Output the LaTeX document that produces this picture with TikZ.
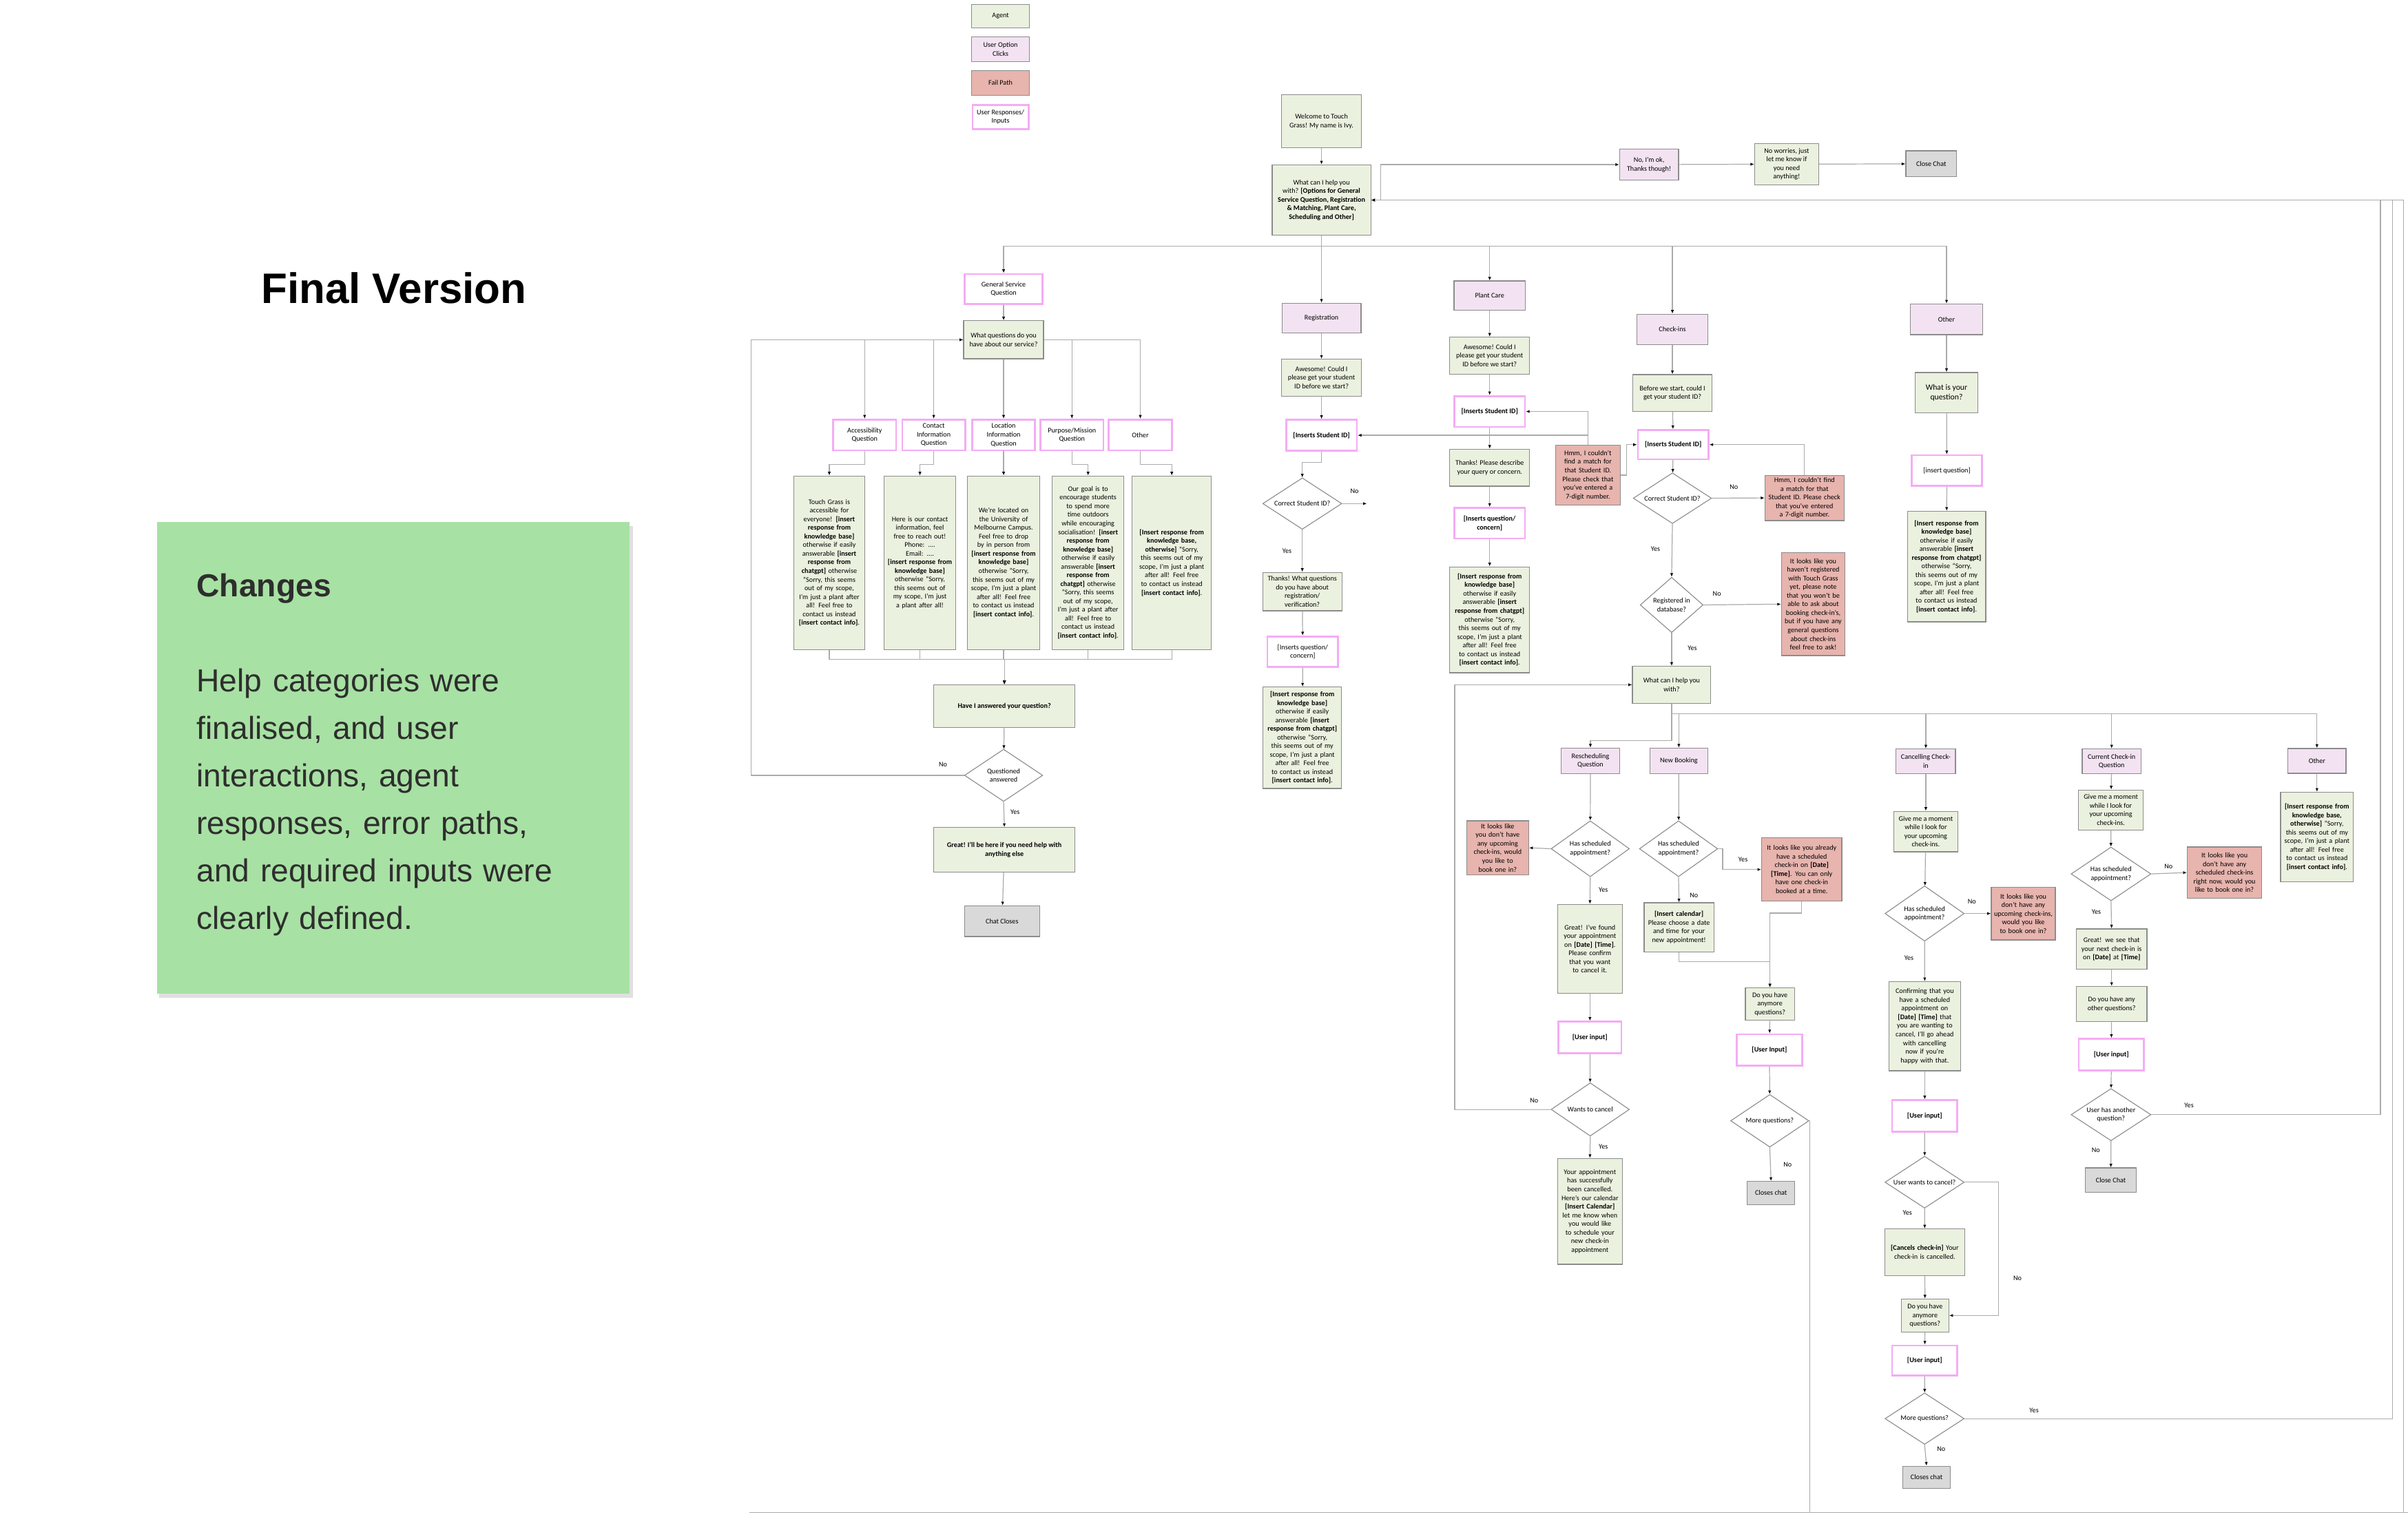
\documentclass[tikz,border=0pt]{standalone}
\usepackage{fontspec}
\setmainfont{Liberation Sans}
\newfontfamily\cbr{Carlito}
\usetikzlibrary{arrows.meta,shapes.geometric}
\definecolor{agentfill}{HTML}{EBF1DF}
\definecolor{optfill}{HTML}{F3E3F2}
\definecolor{failfill}{HTML}{E7B4AE}
\definecolor{respline}{HTML}{F4ACF4}
\definecolor{endfill}{HTML}{D9D9D9}
\definecolor{boxline}{HTML}{8C8C8C}
\definecolor{connline}{HTML}{ABABAB}
\definecolor{chgfill}{HTML}{A8E1A4}
\definecolor{chgtext}{HTML}{2E2E2E}
\hyphenpenalty=10000
\exhyphenpenalty=10000
\tikzset{
  fc/.style={font=\cbr\fontsize{13}{16}\selectfont},
  bx/.style={rectangle, draw=boxline, line width=0.55mm, align=center, inner sep=0.8mm, fc},
  agent/.style={bx, fill=agentfill},
  opt/.style={bx, fill=optfill},
  fail/.style={bx, fill=failfill},
  resp/.style={bx, fill=white, draw=respline, line width=1.2mm},
  endb/.style={bx, fill=endfill},
  fx/.style 2 args={minimum width=#1mm, minimum height=#2mm},
  sz/.style 2 args={minimum width=#1mm, minimum height=#2mm, /utils/exec={\pgfmathsetlengthmacro\boxtw{#1mm-3mm}}, text width=\boxtw},
  dia/.style={diamond, aspect=1.5, draw=boxline, line width=0.5mm, fill=white, align=center, inner sep=0pt, fc},
  conn/.style={draw=connline, line width=0.55mm, -{Latex[length=2.4mm,width=2mm,color=black]}},
  plain/.style={draw=connline, line width=0.55mm},
  yn/.style={fc, inner sep=0pt},
}
\newcommand{\ansfull}{\textbf{[Insert response from knowledge base]} otherwise if easily answerable \textbf{[insert response from chatgpt]} otherwise “Sorry, this seems out of my scope, I’m just a plant after all! Feel free to contact us instead \textbf{[insert contact info]}.}
\newcommand{\hmmtxt}{Hmm, I couldn’t find a match for that Student ID. Please check that you’ve entered a 7-digit number.}
\newcommand{\noupcoming}{It looks like you don’t have any upcoming check-ins, would you like to book one in?}
\begin{document}
\begin{tikzpicture}[x=1mm,y=-1mm]
\useasboundingbox (0,0) rectangle (1568,988);
\fill[white] (0,0) rectangle (1568,988);

% ---------- left panel ----------
\node[font=\bfseries\fontsize{79}{92}\selectfont, anchor=base west, inner sep=0pt] (title) at (170,197.5) {Final Version};
\fill[black!12] (103.5,342.5) rectangle (412,650);
\node[fill=chgfill, minimum width=308mm, minimum height=307mm, inner sep=0pt, anchor=north west] (chgbox) at (102,340) {};
\node[font=\bfseries\fontsize{59}{70}\selectfont, text=chgtext, anchor=base west, inner sep=0pt] (chghead) at (128,388.5) {Changes};
\node[font=\fontsize{59}{88}\selectfont, text=chgtext, anchor=base west, inner sep=0pt, text width=280mm, align=left] (chgbody) at (128,450.5) {Help categories were\\finalised, and user\\interactions, agent\\responses, error paths,\\and required inputs were\\clearly defined.};

% ---------- legend ----------
\node[agent, fx={37.5}{15.5}] (lgA) at (651.5,10.5) {Agent};
\node[opt, fx={37.5}{16}] (lgO) at (651.5,32) {User Option\\Clicks};
\node[fail, fx={37.5}{16}] (lgF) at (651.5,54) {Fail Path};
\node[resp, fx={36.5}{15.5}] (lgR) at (651.5,76.2) {User Responses/\\Inputs};

% ---------- top ----------
\node[agent, fx={52}{34.7}] (welcome) at (860.5,79) {Welcome to Touch\\Grass! My name is Ivy.};
\node[agent, fx={64.3}{45.8}] (whatcan) at (860.5,130.3) {What can I help you\\with? \textbf{[Options for General}\\\textbf{Service Question, Registration}\\\textbf{\& Matching, Plant Care,}\\\textbf{Scheduling and Other]}};
\node[opt, fx={38.4}{20.5}] (noimok) at (1073.8,107.2) {No, I’m ok,\\Thanks though!};
\node[agent, fx={41.8}{27}] (noworries) at (1163.4,106.9) {No worries, just\\let me know if\\you need\\anything!};
\node[endb, fx={33}{17}] (closechat1) at (1257.5,106.7) {Close Chat};

% ---------- categories ----------
\node[resp, fx={50.5}{19.5}] (gsq) at (653.5,188.2) {General Service\\Question};
\node[opt, fx={51.5}{19.5}] (reg) at (860.5,207.2) {Registration};
\node[opt, fx={46.5}{19}] (pc) at (970,192.5) {Plant Care};
\node[opt, fx={46}{20}] (ci) at (1089,214.6) {Check-ins};
\node[opt, fx={47}{20}] (oth1) at (1267.5,208) {Other};

% ---------- general service ----------
\node[agent, fx={52}{24.7}] (wq) at (653.5,221.3) {What questions do you\\have about our service?};
\node[resp, fx={41}{20}] (acc) at (563,283.3) {Accessibility\\Question};
\node[resp, fx={41}{20}] (contact) at (608,283.3) {Contact\\Information\\Question};
\node[resp, fx={41}{20}] (loc) at (653.5,283.3) {Location\\Information\\Question};
\node[resp, fx={41}{20}] (purp) at (698,283.3) {Purpose/Mission\\Question};
\node[resp, fx={41}{20}] (oth) at (742.5,283.3) {Other};
\node[agent, sz={46.5}{113}] (a1) at (540,366.5) {Touch Grass is accessible for everyone! \textbf{[insert response from knowledge base]} otherwise if easily answerable \textbf{[insert response from chatgpt]} otherwise “Sorry, this seems out of my scope, I’m just a plant after all! Feel free to contact us instead \textbf{[insert contact info]}.};
\node[agent, sz={46.5}{113}] (a2) at (599,366.5) {Here is our contact information, feel free to reach out!\\Phone: ....\\Email: ....\\\textbf{[insert response from knowledge base]} otherwise “Sorry, this seems out of my scope, I’m just a plant after all!};
\node[agent, sz={47}{113}] (a3) at (653.5,366.5) {We’re located on the University of Melbourne Campus. Feel free to drop by in person from \textbf{[insert response from knowledge base]} otherwise “Sorry, this seems out of my scope, I’m just a plant after all! Feel free to contact us instead \textbf{[insert contact info]}.};
\node[agent, sz={46.5}{113}] (a4) at (708.5,366.5) {Our goal is to encourage students to spend more time outdoors while encouraging socialisation! \textbf{[insert response from knowledge base]} otherwise if easily answerable \textbf{[insert response from chatgpt]} otherwise “Sorry, this seems out of my scope, I’m just a plant after all! Feel free to contact us instead \textbf{[insert contact info]}.};
\node[agent, sz={51.5}{113}] (a5) at (763,366.5) {\textbf{[Insert response from knowledge base, otherwise]} “Sorry, this seems out of my scope, I’m just a plant after all! Feel free to contact us instead \textbf{[insert contact info]}.};
\node[agent, fx={92}{28}] (hia) at (654,460) {\textbf{Have I answered your question?}};
\node[dia, fx={51}{34}] (qa) at (653.5,505) {Questioned\\answered};
\node[agent, fx={92}{29}] (great) at (654,553.5) {\textbf{Great! I’ll be here if you need help with}\\\textbf{anything else}};
\node[endb, fx={49}{20}] (chatcloses) at (652.5,600) {Chat Closes};

% ---------- registration ----------
\node[agent, fx={52}{24}] (regaw) at (860.5,246) {Awesome! Could I\\please get your student\\ID before we start?};
\node[resp, fx={46}{20}] (regid) at (860.5,283.5) {\textbf{[Inserts Student ID]}};
\node[dia, fx={51.5}{33.5}] (regdia) at (848,328) {Correct Student ID?};
\coordinate (regnoend) at (890,328);
\node[agent, fx={51.5}{25}] (regthanks) at (848,385.3) {Thanks! What questions\\do you have about\\registration/\\verification?};
\node[resp, fx={46}{20}] (regq) at (848.3,424.5) {[Inserts question/\\concern]};
\node[agent, sz={51}{66}] (regans) at (848,480.5) {\ansfull};

% ---------- plant care ----------
\node[agent, fx={52}{24}] (pcaw) at (970,231.6) {Awesome! Could I\\please get your student\\ID before we start?};
\node[resp, fx={46}{20}] (pcid) at (970,268) {\textbf{[Inserts Student ID]}};
\node[agent, fx={52}{24}] (pcthanks) at (970,304.6) {Thanks! Please describe\\your query or concern.};
\node[resp, fx={46}{20}] (pcq) at (970,340.8) {\textbf{[Inserts question/}\\\textbf{concern]}};
\node[agent, sz={52}{69}] (pcans) at (970,403.7) {\ansfull};
\node[fail, sz={42}{39}] (red1) at (1034,309.5) {\hmmtxt};

% ---------- check-ins ----------
\node[agent, fx={51.5}{24}] (ciask) at (1089,256) {Before we start, could I\\get your student ID?};
\node[resp, fx={46}{19}] (ciid) at (1089.5,289.6) {\textbf{[Inserts Student ID]}};
\node[dia, fx={51}{33}] (cidia) at (1089,324.5) {Correct Student ID?};
\node[fail, sz={51.5}{29.5}] (red2) at (1175,324.3) {\hmmtxt};
\node[dia, fx={41}{36}] (regdb) at (1088.5,394) {Registered in\\database?};
\node[fail, sz={41.5}{67}] (red3) at (1180.7,393.5) {It looks like you haven’t registered with Touch Grass yet, please note that you won’t be able to ask about booking check-in’s, but if you have any general questions about check-ins feel free to ask!};
\node[agent, fx={51}{24}] (whathelp) at (1088.5,446) {What can I help you\\with?};

% ---------- other ----------
\node[agent, fx={41}{26.4}, font=\cbr\fontsize{15}{18}\selectfont] (othq) at (1267.5,255.8) {What is your\\question?};
\node[resp, fx={46}{20}] (othin) at (1267.7,306.5) {[insert question]};
\node[agent, sz={51}{72}] (othans) at (1267.5,369) {\ansfull};

% ---------- second level ----------
\node[opt, fx={38}{16.5}] (resq) at (1035.6,495.5) {Rescheduling\\Question};
\node[opt, fx={37.5}{16.5}] (nb) at (1093.2,495.5) {New Booking};
\node[opt, fx={38.7}{16}] (cc) at (1254,495.8) {Cancelling Check-\\in};
\node[opt, fx={38.3}{16}] (cur) at (1375,495.8) {Current Check-in\\Question};
\node[opt, fx={37.8}{16.2}] (oth2) at (1508.7,495.6) {Other};

% rescheduling
\node[dia, fx={51}{36.4}] (resdia) at (1035.5,552.8) {Has scheduled\\appointment?};
\node[fail, sz={40.5}{35.2}] (redR) at (975.2,552.2) {\noupcoming};
\node[agent, sz={42}{58}] (resgreat) at (1035.3,618) {Great! I’ve found your appointment on \textbf{[Date] [Time]}. Please confirm that you want to cancel it.};
\node[resp, fx={41}{20.5}] (resin) at (1035.3,675.7) {\textbf{[User input]}};
\node[dia, fx={51}{34.7}] (wantdia) at (1035.5,722.6) {Wants to cancel};
\node[agent, sz={42}{69}] (rescan) at (1035.3,789) {Your appointment has successfully been cancelled. Here’s our calendar \textbf{[Insert Calendar]} let me know when you would like to schedule your new check-in appointment};

% new booking
\node[dia, fx={51}{36.4}] (nbdia) at (1093,552.8) {Has scheduled\\appointment?};
\node[fail, sz={52.3}{41.3}] (redNB) at (1173.2,566.3) {It looks like you already have a scheduled check-in on \textbf{[Date] [Time]}. You can only have one check-in booked at a time.};
\node[agent, sz={45.4}{32}] (nbcal) at (1093.3,604) {\textbf{[Insert calendar]} Please choose a date and time for your new appointment!};
\node[agent, fx={32}{21.2}] (dyhq) at (1152.5,654) {Do you have\\anymore\\questions?};
\node[resp, fx={42.4}{20.3}] (nbin) at (1152.2,683.8) {\textbf{[User Input]}};
\node[dia, fx={51}{34.3}] (mqdia) at (1152.4,730) {More questions?};
\node[endb, fx={31}{15}] (closes1) at (1153.2,777) {Closes chat};

% cancelling
\node[agent, fx={42}{26.4}] (ccgive) at (1254,541.6) {Give me a moment\\while I look for\\your upcoming\\check-ins.};
\node[dia, fx={51.6}{36}] (ccdia) at (1253.2,595) {Has scheduled\\appointment?};
\node[fail, sz={41.7}{34.5}] (redC) at (1317.5,595) {\noupcoming};
\node[agent, sz={46.5}{58}] (ccconf) at (1253.3,668.4) {Confirming that you have a scheduled appointment on \textbf{[Date] [Time]} that you are wanting to cancel, I’ll go ahead with cancelling now if you’re happy with that.};
\node[resp, fx={42.5}{20.4}] (ccin) at (1253.3,726.8) {\textbf{[User input]}};
\node[dia, fx={51.6}{33.8}] (uwc) at (1253.2,770) {User wants to cancel?};
\node[agent, sz={52}{30.3}] (cccancel) at (1253.3,815.6) {\textbf{[Cancels check-in]} Your check-in is cancelled.};
\node[agent, fx={31}{21.5}] (ccdyhq) at (1253.5,856.8) {Do you have\\anymore\\questions?};
\node[resp, fx={42.5}{19.6}] (ccin2) at (1253.3,886.2) {\textbf{[User input]}};
\node[dia, fx={51.6}{33.5}] (ccmq) at (1253.2,924) {More questions?};
\node[endb, fx={31}{14.5}] (closes2) at (1254.5,962.2) {Closes chat};

% current check-in
\node[agent, fx={42}{26}] (curgive) at (1374.5,527.5) {Give me a moment\\while I look for\\your upcoming\\check-ins.};
\node[dia, fx={52}{35}] (curdia) at (1374.6,569.2) {Has scheduled\\appointment?};
\node[fail, sz={48.5}{33.3}] (redCur) at (1448.5,568.3) {It looks like you don’t have any scheduled check-ins right now, would you like to book one in?};
\node[agent, sz={46}{26.4}] (curgreat) at (1375,618.2) {Great! we see that your next check-in is on \textbf{[Date]} at \textbf{[Time]}};
\node[agent, fx={46}{23}] (curdyh) at (1375,654) {Do you have any\\other questions?};
\node[resp, fx={42.5}{20.7}] (curin) at (1374.8,687) {\textbf{[User input]}};
\node[dia, fx={52}{34}] (uhaq) at (1374.6,726) {User has another\\question?};
\node[endb, fx={33}{15.8}] (closechat3) at (1374.5,768.6) {Close Chat};

% other (check-ins)
\node[agent, sz={47.4}{58.4}] (oth2ans) at (1508.7,545.2) {\textbf{[Insert response from knowledge base, otherwise]} “Sorry, this seems out of my scope, I’m just a plant after all! Feel free to contact us instead \textbf{[insert contact info]}.};

% ---------- connectors: top ----------
\draw[conn] (welcome) -- (whatcan);
\draw[conn] (whatcan.east) -- (899,130.3) |- (noimok.west);
\draw[conn] (noimok) -- (noworries);
\draw[conn] (noworries) -- (closechat1);
\draw[conn] (whatcan.south) -- ++(0,7) -| (gsq.north);
\draw[conn] (whatcan.south) -- (reg.north);
\draw[conn] (whatcan.south) -- ++(0,7) -| (pc.north);
\draw[conn] (whatcan.south) -- ++(0,7) -| (ci.north);
\draw[conn] (whatcan.south) -- ++(0,7) -| (oth1.north);

% general service
\draw[conn] (gsq) -- (wq);
\draw[conn] (wq.west) -| (acc.north);
\draw[conn] (wq.west) -| (contact.north);
\draw[conn] (wq.south) -- (loc.north);
\draw[conn] (wq.east) -| (purp.north);
\draw[conn] (wq.east) -| (oth.north);
\draw[conn] (acc.south) -- ++(0,8.5) -| (a1.north);
\draw[conn] (contact.south) -- ++(0,8.5) -| (a2.north);
\draw[conn] (loc.south) -- (a3.north);
\draw[conn] (purp.south) -- ++(0,8.5) -| (a4.north);
\draw[conn] (oth.south) -- ++(0,8.5) -| (a5.north);
\foreach \an in {a1,a2,a3,a4,a5}{\draw[conn] (\an.south) -- ++(0,6) -| (hia.north);}
\draw[conn] (hia) -- (qa);
\draw[conn] (qa.south) -- (great.north);
\draw[conn] (qa.west) -- ++(-138.5,0) |- (wq.west);
\draw[conn] (great) -- (chatcloses);
\node[yn] (l1) at (614,498) {No};
\node[yn] (l2) at (661,529) {Yes};

% registration
\draw[conn] (reg) -- (regaw);
\draw[conn] (regaw) -- (regid);
\draw[conn] (regid.south) -- ++(0,7) -| (regdia.north);
\draw[conn] (regdia.east) -- (regnoend);
\draw[conn] (regdia.south) -- (regthanks.north);
\draw[conn] (regthanks) -- (regq);
\draw[conn] (regq) -- (regans);
\node[yn] (l3) at (882,320) {No};
\node[yn] (l4) at (838,359) {Yes};

% plant care
\draw[conn] (pc) -- (pcaw);
\draw[conn] (pcaw) -- (pcid);
\draw[conn] (pcid) -- (pcthanks);
\draw[conn] (pcthanks) -- (pcq);
\draw[conn] (pcq) -- (pcans);
\draw[conn] (red1.north) |- (regid.east);
\draw[conn] (red1.north) |- (pcid.east);
\draw[conn] (red1.east) -- ++(4,0) |- (ciid.west);

% check-ins
\draw[conn] (ci) -- (ciask);
\draw[conn] (ciask) -- (ciid);
\draw[conn] (ciid) -- (cidia);
\draw[conn] (cidia.east) -- (red2.west);
\draw[conn] (red2.north) |- (ciid.east);
\draw[conn] (cidia.south) -- (regdb.north);
\draw[conn] (regdb.east) -- (red3.west);
\draw[conn] (regdb.south) -- (whathelp.north);
\node[yn] (l5) at (1129,317) {No};
\node[yn] (l6) at (1078,357.5) {Yes};
\node[yn] (l7) at (1118,386.6) {No};
\node[yn] (l8) at (1102,422) {Yes};

% other
\draw[conn] (oth1) -- (othq);
\draw[conn] (othq) -- (othin);
\draw[conn] (othin) -- (othans);

% second level branches
\draw[conn] (whathelp.south) -- ++(0,24) -| (resq.north);
\draw[conn] (whathelp.south) -- ++(0,6.5) -| (nb.north);
\draw[conn] (whathelp.south) -- ++(0,6.5) -| (cc.north);
\draw[conn] (whathelp.south) -- ++(0,6.5) -| (cur.north);
\draw[conn] (whathelp.south) -- ++(0,6.5) -| (oth2.north);

% rescheduling
\draw[conn] (resq) -- (resdia);
\draw[conn] (resdia.west) -- (redR.east);
\draw[conn] (resdia.south) -- (resgreat.north);
\draw[conn] (resgreat) -- (resin);
\draw[conn] (resin) -- (wantdia);
\draw[conn] (wantdia.south) -- (rescan.north);
\draw[conn] (wantdia.west) -- ++(-62.5,0) |- (whathelp.west);
\node[yn] (l9) at (1044,579.5) {Yes};
\node[yn] (l10) at (999,717) {No};
\node[yn] (l11) at (1044,747) {Yes};

% new booking
\draw[conn] (nb) -- (nbdia);
\draw[conn] (nbdia.east) -- ++(3,0) |- (redNB.west);
\draw[conn] (nbdia.south) -- (nbcal.north);
\draw[conn] (nbcal.south) -- ++(0,6) -| (dyhq.north);
\draw[conn] (redNB.south) -- ++(0,7.5) -| (dyhq.north);
\draw[conn] (dyhq) -- (nbin);
\draw[conn] (nbin) -- (mqdia);
\draw[conn] (mqdia.south) -- (closes1.north);
\node[yn] (l12) at (1135,559.8) {Yes};
\node[yn] (l13) at (1103,583) {No};
\node[yn] (l14) at (1164,758.5) {No};

% cancelling
\draw[conn] (cc) -- (ccgive);
\draw[conn] (ccgive) -- (ccdia);
\draw[conn] (ccdia.east) -- (redC.west);
\draw[conn] (ccdia.south) -- (ccconf.north);
\draw[conn] (ccconf) -- (ccin);
\draw[conn] (ccin) -- (uwc);
\draw[conn] (uwc.south) -- (cccancel.north);
\draw[conn] (uwc.east) -- ++(22,0) |- (ccdyhq.east);
\draw[conn] (cccancel) -- (ccdyhq);
\draw[conn] (ccdyhq) -- (ccin2);
\draw[conn] (ccin2) -- (ccmq);
\draw[conn] (ccmq.south) -- (closes2.north);
\node[yn] (l15) at (1284,587.4) {No};
\node[yn] (l16) at (1243,624) {Yes};
\node[yn] (l17) at (1242,790) {Yes};
\node[yn] (l18) at (1313.7,832.4) {No};
\node[yn] (l19) at (1324.5,918.5) {Yes};
\node[yn] (l20) at (1264,944) {No};

% current check-in
\draw[conn] (cur) -- (curgive);
\draw[conn] (curgive) -- (curdia);
\draw[conn] (curdia.east) -- (redCur.west);
\draw[conn] (curdia.south) -- (curgreat.north);
\draw[conn] (curgreat) -- (curdyh);
\draw[conn] (curdyh) -- (curin);
\draw[conn] (curin) -- (uhaq);
\draw[conn] (uhaq.south) -- (closechat3.north);
\node[yn] (l21) at (1412,564.5) {No};
\node[yn] (l22) at (1365,594) {Yes};
\node[yn] (l23) at (1425.4,720) {Yes};
\node[yn] (l24) at (1364.7,749) {No};

% other (second level)
\draw[conn] (oth2) -- (oth2ans);

% ---------- return loops ----------
\draw[plain] (488,985) -- (1568,985);
\coordinate (lpA1) at (1178.5,985);
\coordinate (lpA2) at (1565,985);
\draw[conn] (mqdia.east) -| (lpA1) -- (lpA2) |- (whatcan.east);
\coordinate (lpC) at (1558,924);
\draw[conn] (ccmq.east) -- (lpC) |- (whatcan.east);
\coordinate (lpB) at (1550,726);
\draw[conn] (uhaq.east) -- (lpB) |- (whatcan.east);
\end{tikzpicture}
\end{document}
